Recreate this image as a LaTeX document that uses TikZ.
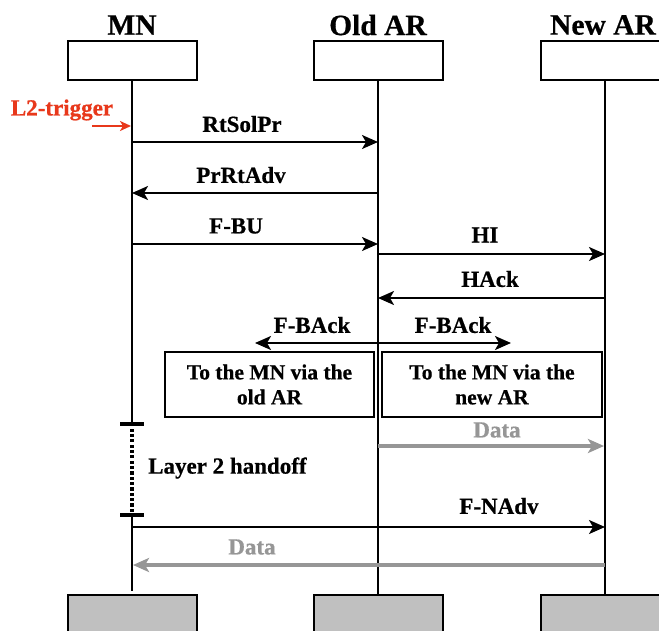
\documentclass[tikz,border=0pt]{standalone}
\usepackage{fontspec}
\setmainfont{Liberation Serif}[BoldFeatures={FakeBold=0.6}]
\usetikzlibrary{arrows.meta}
\definecolor{trig}{RGB}{232,56,27}
\definecolor{datagray}{RGB}{150,150,150}
\definecolor{boxgray}{RGB}{192,192,192}
\begin{document}
\begin{tikzpicture}[x=1pt,y=-1pt,
  hdr/.style={font=\fontsize{29.5}{32}\selectfont\bfseries},
  lbl/.style={font=\fontsize{23}{26}\selectfont\bfseries, inner sep=0pt},
  boxtxt/.style={font=\fontsize{21.5}{25}\selectfont\bfseries, align=center},
  topbox/.style={draw, line width=2pt, minimum width=129pt, minimum height=39pt, inner sep=0pt},
  botbox/.style={draw, fill=boxgray, line width=2pt, minimum width=129pt, minimum height=45pt, inner sep=0pt},
  notebox/.style={draw, line width=2pt, inner sep=0pt},
  life/.style={line width=2pt},
  msg/.style={line width=2pt, -{Stealth[length=16pt,width=14pt,inset=4pt]}},
  dblmsg/.style={line width=2pt, {Stealth[length=16pt,width=14pt,inset=4pt]}-{Stealth[length=16pt,width=14pt,inset=4pt]}},
  datamsg/.style={line width=3.2pt, draw=datagray, -{Stealth[length=16pt,width=14pt,inset=4pt]}},
  tick/.style={line width=3.5pt}
]
\useasboundingbox (0,0) rectangle (659,630);
\clip (0,0) rectangle (659,630);
\fill[white] (0,0) rectangle (659,630);

% headers
\node[hdr] (hMN) at (132,25) {MN};
\node[hdr] (hOld) at (378,25) {Old AR};
\node[hdr] (hNew) at (603,25) {New AR};

% top boxes
\node[topbox] (tMN) at (132,60.5) {};
\node[topbox] (tOld) at (378,60.5) {};
\node[topbox] (tNew) at (605,60.5) {};

% bottom boxes
\node[botbox] (bMN) at (132,617.5) {};
\node[botbox] (bOld) at (378,617.5) {};
\node[botbox] (bNew) at (605,617.5) {};

% lifelines
\coordinate (h1) at (132,424); \coordinate (h2) at (132,515);
\draw[life] (tMN.south) -- (h1);
\draw[life] (h2) -- ([yshift=3pt]bMN.north);
\draw[life] (tOld.south) -- (bOld.north);
\draw[life] (tNew.south) -- (bNew.north);

% L2 trigger
\node[lbl, text=trig] (trigtxt) at (62,110) {L2-trigger};
\coordinate (trigA) at (92,126);
\coordinate (trigB) at (131,126);
\draw[line width=2.6pt, draw=trig, -{Stealth[length=11pt,width=10pt,inset=3pt]}] (trigA) -- (trigB);

% RtSolPr
\coordinate (a1) at (132,142); \coordinate (b1) at (378,142);
\draw[msg] (a1) -- (b1);
\node[lbl] (l1) at (242,124) {RtSolPr};

% PrRtAdv
\coordinate (a2) at (378,193); \coordinate (b2) at (132,193);
\draw[msg] (a2) -- (b2);
\node[lbl] (l2) at (241,175) {PrRtAdv};

% F-BU
\coordinate (a3) at (132,244); \coordinate (b3) at (378,244);
\draw[msg] (a3) -- (b3);
\node[lbl] (l3) at (236,226) {F-BU};

% HI
\coordinate (a4) at (378,254); \coordinate (b4) at (605,254);
\draw[msg] (a4) -- (b4);
\node[lbl] (l4) at (485,235) {HI};

% HAck
\coordinate (a5) at (605,298); \coordinate (b5) at (378,298);
\draw[msg] (a5) -- (b5);
\node[lbl] (l5) at (490,279) {HAck};

% F-BAck both ways
\coordinate (a6) at (255,343); \coordinate (b6) at (511,343);
\draw[dblmsg] (a6) -- (b6);
\node[lbl] (l6a) at (312,325) {F-BAck};
\node[lbl] (l6b) at (453,325) {F-BAck};

% note boxes
\node[notebox, minimum width=209pt, minimum height=65pt] (nL) at (269.5,384.5) {};
\node[boxtxt] at (nL.center) {To the MN via the\\old AR};
\node[notebox, minimum width=220pt, minimum height=65pt] (nR) at (492,384.5) {};
\node[boxtxt] at (nR.center) {To the MN via the\\new AR};

% Data (old -> new)
\coordinate (a7) at (378,446); \coordinate (b7) at (604,446);
\draw[datamsg] (a7) -- (b7);
\node[lbl, text=datagray] (l7) at (497,430) {Data};

% Layer 2 handoff
\draw[tick] ([xshift=-12pt]h1) -- ([xshift=12pt]h1);
\draw[tick] ([xshift=-12pt]h2) -- ([xshift=12pt]h2);
\foreach \k in {0,...,15} {
  \fill (130,{428.5+\k*5.35}) rectangle ++(4,3.2);
}
\node[lbl, anchor=west] (l2h) at (148,468) {Layer 2 handoff};

% F-NAdv
\coordinate (a8) at (132,527); \coordinate (b8) at (605,527);
\draw[msg] (a8) -- (b8);
\node[lbl] (l8) at (499,506) {F-NAdv};

% Data (new -> MN)
\coordinate (a9) at (605,565); \coordinate (b9) at (133,565);
\draw[datamsg] (a9) -- (b9);
\node[lbl, text=datagray] (l9) at (252,547) {Data};
\end{tikzpicture}
\end{document}
